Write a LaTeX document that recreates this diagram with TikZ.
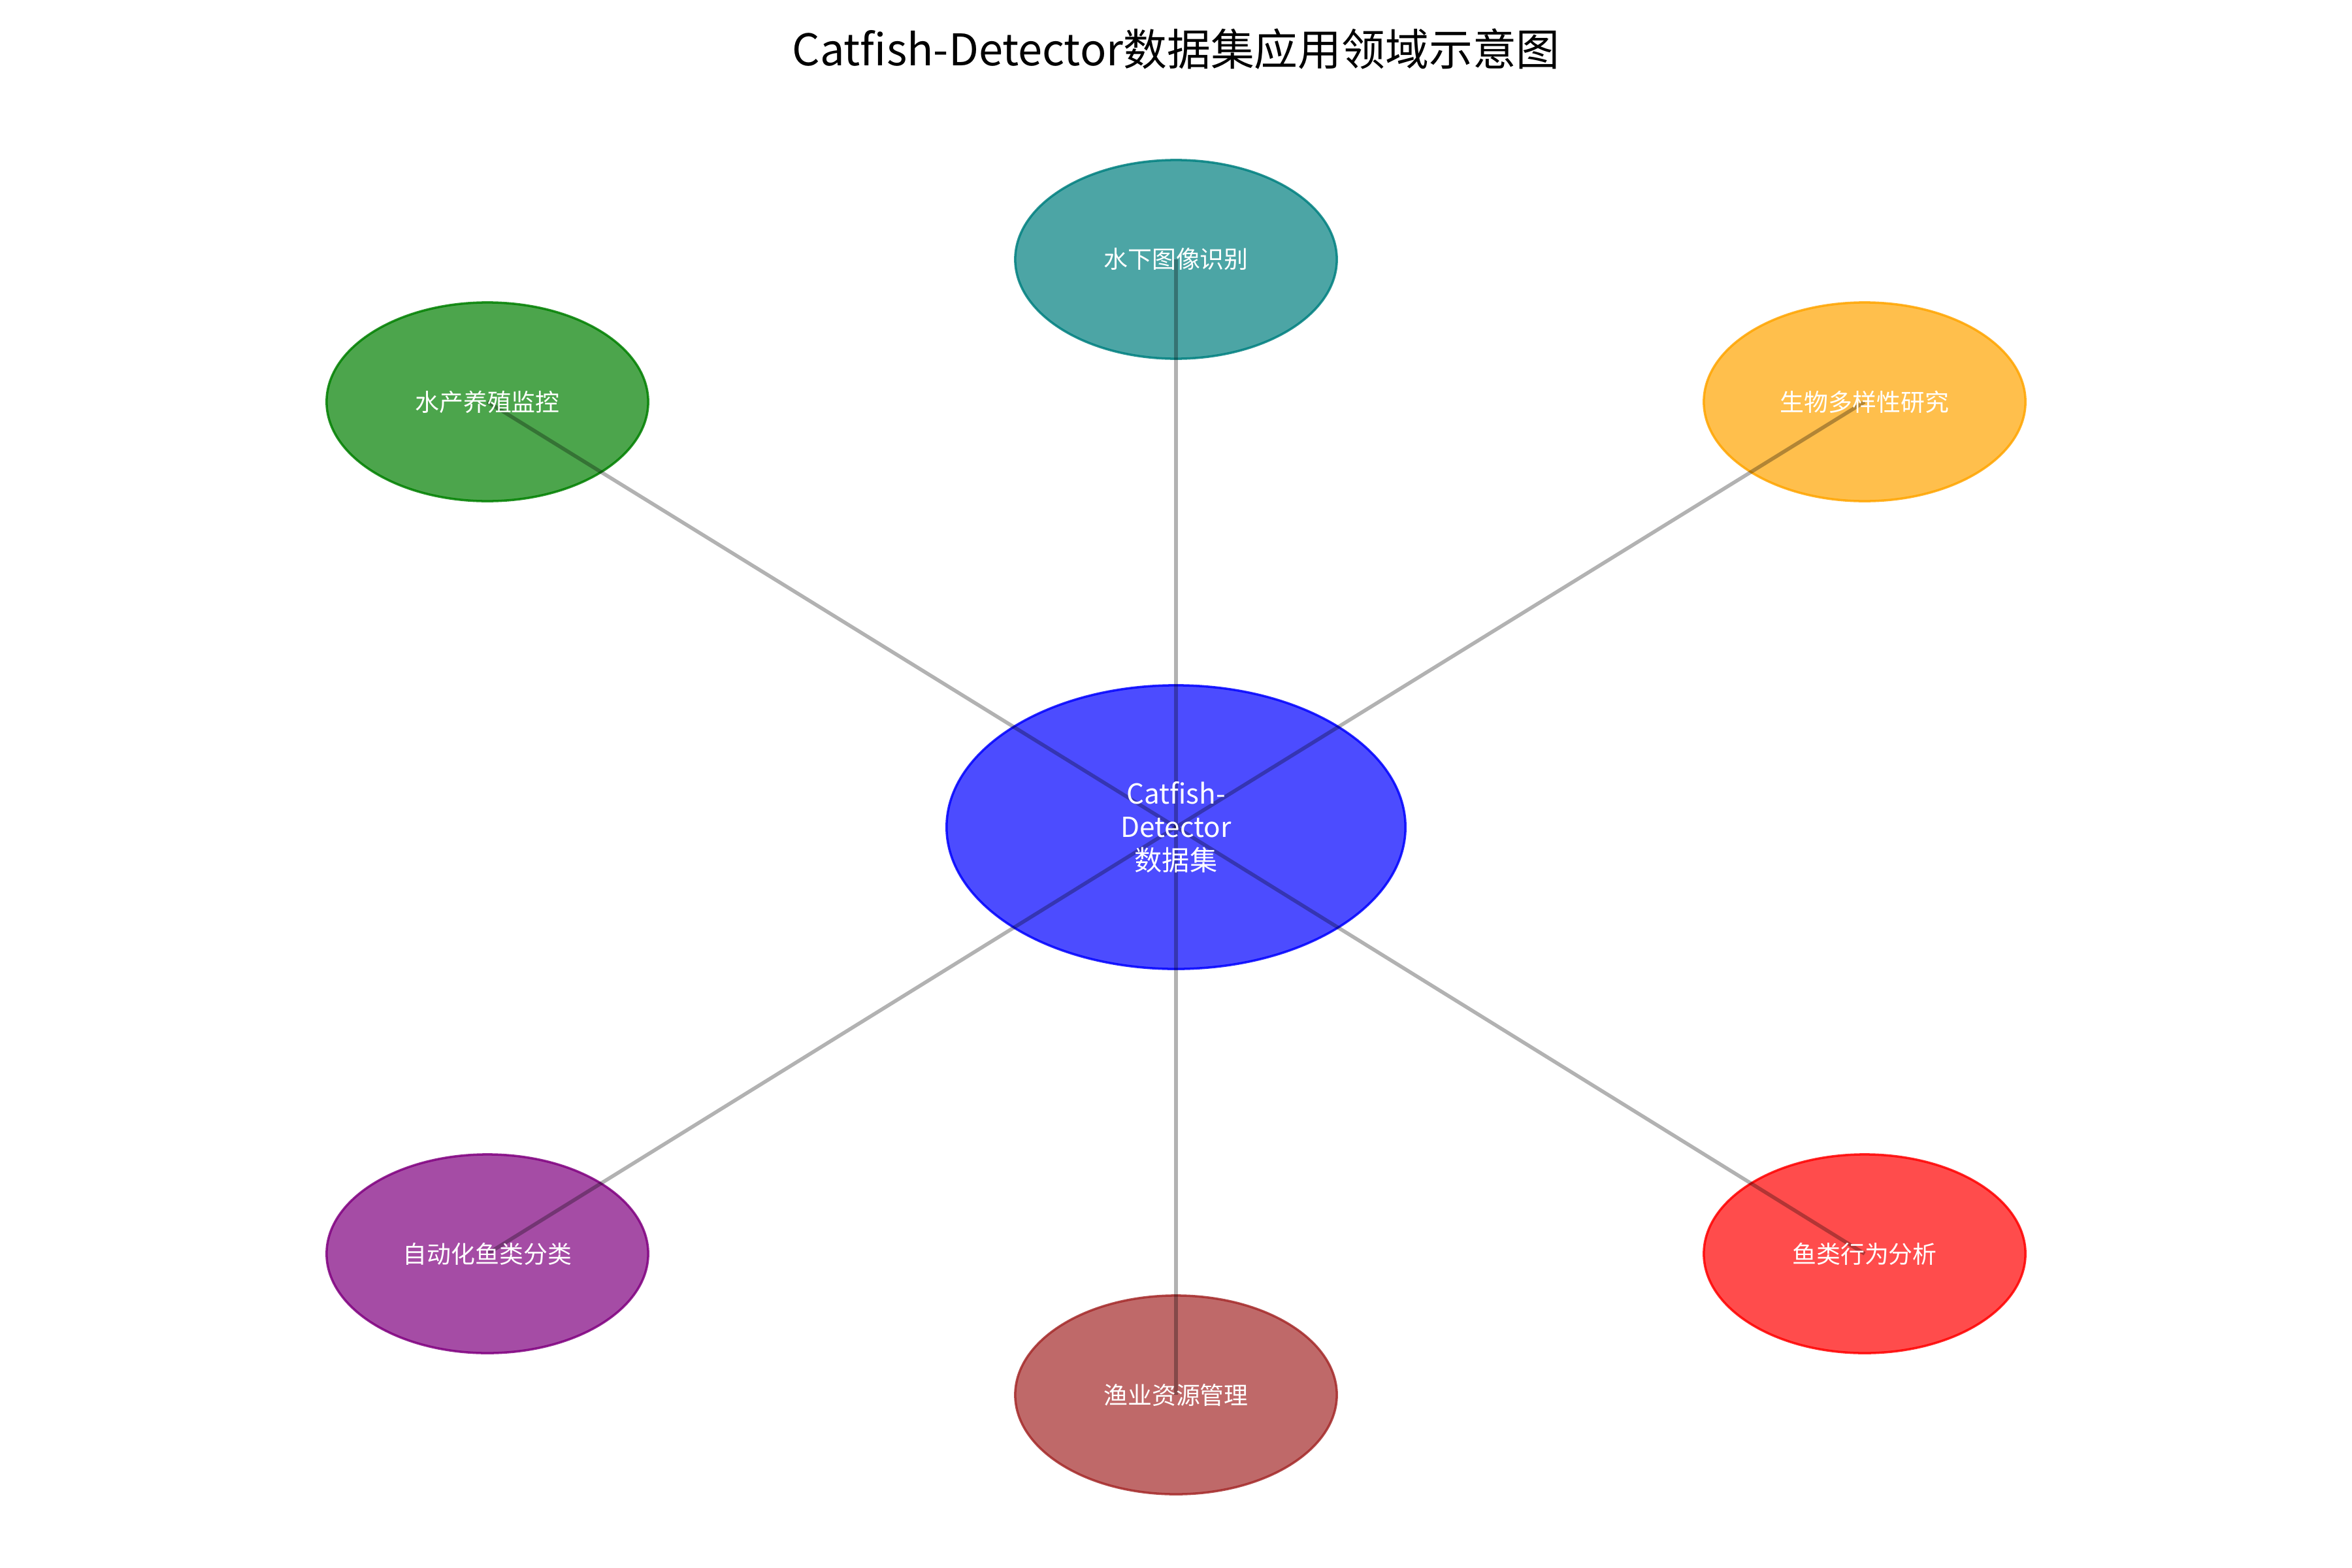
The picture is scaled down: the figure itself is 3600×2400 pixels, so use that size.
\documentclass[tikz,border=0pt]{standalone}
\usepackage{fontspec}
\setmainfont{Noto Sans CJK SC}
\usetikzlibrary{shapes.geometric}
\definecolor{cteal}{RGB}{0,128,128}
\definecolor{cgreen}{RGB}{0,128,0}
\definecolor{corange}{RGB}{255,165,0}
\definecolor{cred}{RGB}{255,0,0}
\definecolor{cbrown}{RGB}{165,42,42}
\definecolor{cpurple}{RGB}{128,0,128}
\definecolor{cblue}{RGB}{0,0,255}
\begin{document}
\begin{tikzpicture}[x=0.01cm,y=-0.01cm,
  blob/.style={ellipse, minimum width=4.92cm, minimum height=3.04cm, inner sep=0pt,
    line width=1pt, fill opacity=0.7, draw opacity=0.85},
  hub/.style={blob, minimum width=7.02cm, minimum height=4.34cm},
  link/.style={draw=black, draw opacity=0.3, line width=1.6pt},
  lbl/.style={text=white, inner sep=0pt, font=\fontsize{10.5}{12}\selectfont},
  hublbl/.style={text=white, inner sep=0pt, align=center, font=\fontsize{12}{14.5}\selectfont},
  ttl/.style={text=black, inner sep=0pt, font=\fontsize{19}{22}\selectfont}]
\useasboundingbox (0,0) rectangle (3600,2400);
\fill[white] (0,0) rectangle (3600,2400);

% ellipses
\node[hub,  fill=cblue,   draw=cblue]   (c)  at (1800,1266) {};
\node[blob, fill=cteal,   draw=cteal]   (t)  at (1800,397)  {};
\node[blob, fill=cgreen,  draw=cgreen]  (ul) at (746,615)   {};
\node[blob, fill=corange, draw=corange] (ur) at (2854,615)  {};
\node[blob, fill=cpurple, draw=cpurple] (ll) at (746,1919)  {};
\node[blob, fill=cred,    draw=cred]    (lr) at (2854,1919) {};
\node[blob, fill=cbrown,  draw=cbrown]  (b)  at (1800,2135) {};

% connectors
\foreach \n in {t,ul,ur,ll,lr,b} {
  \draw[link] (c.center) -- (\n.center);
}

% labels
\node[hublbl] (cl) at (c.center) {Catfish-\\Detector\\数据集};
\node[lbl] (tl)  at (t.center)  {水下图像识别};
\node[lbl] (ull) at (ul.center) {水产养殖监控};
\node[lbl] (url) at (ur.center) {生物多样性研究};
\node[lbl] (lll) at (ll.center) {自动化鱼类分类};
\node[lbl] (lrl) at (lr.center) {鱼类行为分析};
\node[lbl] (bl)  at (b.center)  {渔业资源管理};

\node[ttl] (title) at (1800,75) {Catfish-Detector数据集应用领域示意图};
\end{tikzpicture}
\end{document}
